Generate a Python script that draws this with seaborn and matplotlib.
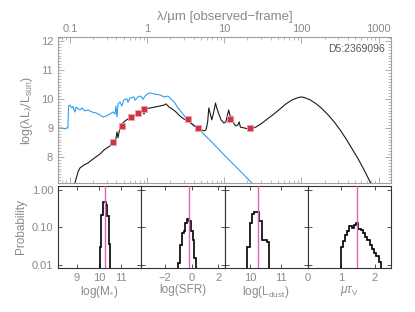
import numpy as np
import pandas as pd
import matplotlib
matplotlib.use("Agg")
import matplotlib.pyplot as plt
import seaborn as sns
from matplotlib.ticker import LogLocator, NullFormatter, MultipleLocator, FixedLocator, FixedFormatter, NullLocator

# ---------------- data ----------------
# unattenuated stellar SED (blue)
blue_wl = [0.0699, 0.079, 0.086, 0.0914, 0.094, 0.096, 0.100, 0.106, 0.109, 0.116, 0.120, 0.135, 0.143,
           0.156, 0.171, 0.193, 0.217, 0.245, 0.268, 0.293, 0.330, 0.360, 0.384, 0.395, 0.407, 0.420,
           0.445, 0.472, 0.500, 0.550, 0.565, 0.600, 0.675, 0.700, 0.760, 0.830, 0.885, 0.940, 1.00,
           1.09, 1.26, 1.47, 1.66, 1.87, 2.04, 2.24, 2.52, 2.84, 3.19, 3.60, 4.28, 4.80, 6.5, 8.8,
           11.9, 16.1, 23.0]
blue_L = [9.00, 9.00, 8.97, 9.00, 9.00, 9.76, 9.79, 9.69, 9.74, 9.55, 9.72, 9.62, 9.69,
          9.59, 9.62, 9.55, 9.52, 9.45, 9.38, 9.41, 9.48, 9.55, 9.48, 9.76, 9.38, 9.83,
          9.90, 9.76, 9.97, 10.00, 9.88, 10.03, 10.07, 9.96, 10.07, 10.10, 9.99, 10.10, 10.17,
          10.21, 10.17, 10.14, 10.07, 10.10, 10.00, 9.90, 9.69, 9.52, 9.34, 9.21, 9.03, 8.93, 8.58, 8.22,
          7.86, 7.51, 7.09]

# best-fit total SED (black)
black_wl = [0.116, 0.127, 0.135, 0.152, 0.171, 0.193, 0.217, 0.245, 0.276, 0.302, 0.330, 0.350,
            0.372, 0.384, 0.407, 0.420, 0.445, 0.472, 0.517, 0.565, 0.617, 0.675, 0.74, 0.81,
            0.885, 0.91, 0.97, 1.09, 1.26, 1.47, 1.66, 1.76, 1.93, 2.11, 2.37, 2.67, 3.0, 3.37,
            3.8, 4.28, 4.8, 5.4, 5.8, 6.1, 6.3, 6.5, 6.9, 7.4, 7.7, 8.0, 8.6, 9.1, 9.9, 10.5,
            11.4, 12.1, 12.6, 13.4, 14.2, 15.0, 15.6, 16.2, 18.1, 20.2, 22.9, 25.7, 31, 37, 44,
            53, 63, 76, 91, 100, 109, 130, 156, 186, 222, 266, 318, 380, 454, 544, 650, 753, 800]
black_L = [7.10, 7.48, 7.62, 7.72, 7.79, 7.90, 8.00, 8.10, 8.24, 8.31, 8.38, 8.52,
           8.59, 8.45, 8.86, 8.66, 9.03, 9.14, 9.24, 9.31, 9.38, 9.41, 9.48, 9.55,
           9.59, 9.48, 9.66, 9.69, 9.72, 9.76, 9.79, 9.83, 9.72, 9.66, 9.55, 9.41, 9.31, 9.24,
           9.14, 9.03, 8.97, 8.90, 8.93, 9.21, 9.69, 9.55, 9.28, 9.62, 9.86, 9.69, 9.45, 9.28, 9.17, 9.21,
           9.62, 9.34, 9.41, 9.14, 9.07, 9.10, 9.21, 9.03, 9.00, 8.97, 8.98, 9.03, 9.17, 9.33, 9.48,
           9.66, 9.83, 9.97, 10.05, 10.07, 10.05, 9.97, 9.83, 9.66, 9.45, 9.21, 8.93, 8.62, 8.28, 7.93, 7.55, 7.21, 7.07]

# observed photometry (red squares)
phot_wl = [0.358, 0.476, 0.618, 0.755, 0.912, 3.37, 4.62, 11.9, 21.6]
phot_L = [8.53, 9.08, 9.37, 9.51, 9.64, 9.30, 8.99, 9.31, 8.99]

# likelihood distributions
mstar_edges = [10.03, 10.10, 10.17, 10.24, 10.31, 10.38, 10.45, 10.52]
mstar_prob = [0.03, 0.21, 0.46, 0.46, 0.39, 0.20, 0.036]
mstar_med = 10.28

sfr_edges = [-1.00, -0.866, -0.732, -0.598, -0.464, -0.33, -0.196, -0.062, 0.072, 0.206, 0.34]
sfr_prob = [0.011, 0.034, 0.070, 0.080, 0.130, 0.170, 0.150, 0.080, 0.047, 0.015]
sfr_med = -0.22

ldust_edges = [9.90, 9.98, 10.06, 10.14, 10.22, 10.30, 10.38, 10.46, 10.54, 10.62]
ldust_prob = [0.03, 0.13, 0.22, 0.25, 0.25, 0.145, 0.046, 0.046, 0.04]
ldust_med = 10.27

tau_edges = [0.976, 1.043, 1.109, 1.176, 1.243, 1.309, 1.376, 1.443, 1.509, 1.576, 1.643,
             1.709, 1.776, 1.843, 1.909, 1.976, 2.043, 2.109, 2.176]
tau_prob = [0.03, 0.044, 0.063, 0.078, 0.106, 0.095, 0.118, 0.13, 0.09, 0.085, 0.072,
            0.057, 0.045, 0.035, 0.027, 0.021, 0.017, 0.012]
tau_med = 1.47

panel_labels = [r"log(M$_{*}$)", "log(SFR)", r"log(L$_{\rm dust}$)", r"$\mu\tau_{\rm V}$"]
panel_xlims = [(8.17, 11.9), (-3.77, 2.46), (9.16, 11.89), (0.0, 2.48)]
panel_xticks = [[9, 10, 11], [-2, 0, 2], [10, 11], [0, 1, 2]]
top_ticks = [0.1, 1, 10, 100, 1000]
top_ticklabels = ["0.1", "1", "10", "100", "1000"]
object_name = "D5:2369096"

# ---------------- style ----------------
sns.set_theme(style="ticks")
plt.rcParams["font.family"] = ["Liberation Sans", "DejaVu Sans"]
plt.rcParams["mathtext.fontset"] = "custom"
plt.rcParams["mathtext.rm"] = "Liberation Sans"
plt.rcParams["mathtext.it"] = "Liberation Sans:italic"
plt.rcParams["mathtext.sf"] = "Liberation Sans"

gray_txt = "#8a8a8a"
gray_axis = "#a0a0a0"
dark_axis = "#333333"
magenta = "#e060c0"

fig = plt.figure(figsize=(4.15, 3.12), dpi=100)
W, H = 415.0, 312.0

# ---------------- top SED panel ----------------
ax = fig.add_axes([58 / W, (H - 183) / H, 333 / W, 146 / H])
ax.set_xscale("log")
sns.lineplot(x=blue_wl, y=blue_L, color="#2b9ef2", lw=0.8, ax=ax, estimator=None, sort=False)
sns.lineplot(x=black_wl, y=black_L, color="#1a1a1a", lw=0.8, ax=ax, estimator=None, sort=False)
sns.scatterplot(x=phot_wl, y=phot_L, marker="s", s=13, color="#cf3443",
                edgecolor="#f0a0aa", linewidth=0.6, ax=ax, zorder=5)
ax.set_xlim(0.07, 1450)
ax.set_ylim(7.1, 12.14)

ax.xaxis.set_major_locator(FixedLocator(top_ticks))
ax.xaxis.set_major_formatter(FixedFormatter(top_ticklabels))
ax.xaxis.set_minor_locator(LogLocator(base=10, subs=np.arange(2, 10), numticks=20))
ax.xaxis.set_minor_formatter(NullFormatter())
ax.yaxis.set_major_locator(MultipleLocator(1))
ax.yaxis.set_minor_locator(MultipleLocator(0.1))
ax.tick_params(axis="both", which="both", direction="in", top=True, right=True,
               bottom=True, left=True, colors=gray_axis, labelcolor=gray_txt, labelsize=8)
ax.tick_params(axis="x", labeltop=True, labelbottom=False, pad=2)
ax.tick_params(which="major", length=4, width=0.6)
ax.tick_params(which="minor", length=2, width=0.5)
for s in ax.spines.values():
    s.set_color(gray_axis)
    s.set_linewidth(0.8)
ax.xaxis.set_label_position("top")
ax.set_xlabel("λ/µm [observed−frame]", color=gray_txt, fontsize=9.5, labelpad=3)
ax.set_ylabel(r"log(λL$_{\mathrm{λ}}$/L$_{\rm sun}$)", color=gray_txt, fontsize=9, labelpad=4)
ax.text(0.982, 0.918, object_name, transform=ax.transAxes, ha="right", va="center",
        color="#555555", fontsize=7.5)

# ---------------- bottom likelihood panels ----------------
edges_all = [mstar_edges, sfr_edges, ldust_edges, tau_edges]
prob_all = [mstar_prob, sfr_prob, ldust_prob, tau_prob]
med_all = [mstar_med, sfr_med, ldust_med, tau_med]
pw = 333 / 4.0
for i in range(4):
    b = fig.add_axes([(58 + i * pw) / W, (H - 268) / H, pw / W, 82 / H])
    b.set_yscale("log")
    b.stairs(prob_all[i], edges_all[i], baseline=1e-4, color="black", lw=1.2)
    b.axvline(med_all[i], color=magenta, lw=1.0, zorder=3)
    b.set_xlim(*panel_xlims[i])
    b.set_ylim(0.0083, 1.26)
    b.xaxis.set_major_locator(FixedLocator(panel_xticks[i]))
    b.yaxis.set_major_locator(FixedLocator([0.01, 0.1, 1.0]))
    b.yaxis.set_minor_locator(NullLocator())
    b.xaxis.set_minor_locator(NullLocator())
    b.tick_params(axis="both", which="both", direction="in", top=True, right=True,
                  colors=dark_axis, labelcolor=gray_txt, labelsize=8, length=3, width=0.6)
    if i == 0:
        b.yaxis.set_major_formatter(FixedFormatter(["0.01", "0.10", "1.00"]))
        b.set_ylabel("Probability", color=gray_txt, fontsize=8.5, labelpad=3)
    else:
        b.tick_params(axis="y", labelleft=False)
    b.set_xlabel(panel_labels[i], color=gray_txt, fontsize=8.5, labelpad=1)
    for s in b.spines.values():
        s.set_color(dark_axis)
        s.set_linewidth(0.8)

fig.savefig("out.png", dpi=100, facecolor="white")
